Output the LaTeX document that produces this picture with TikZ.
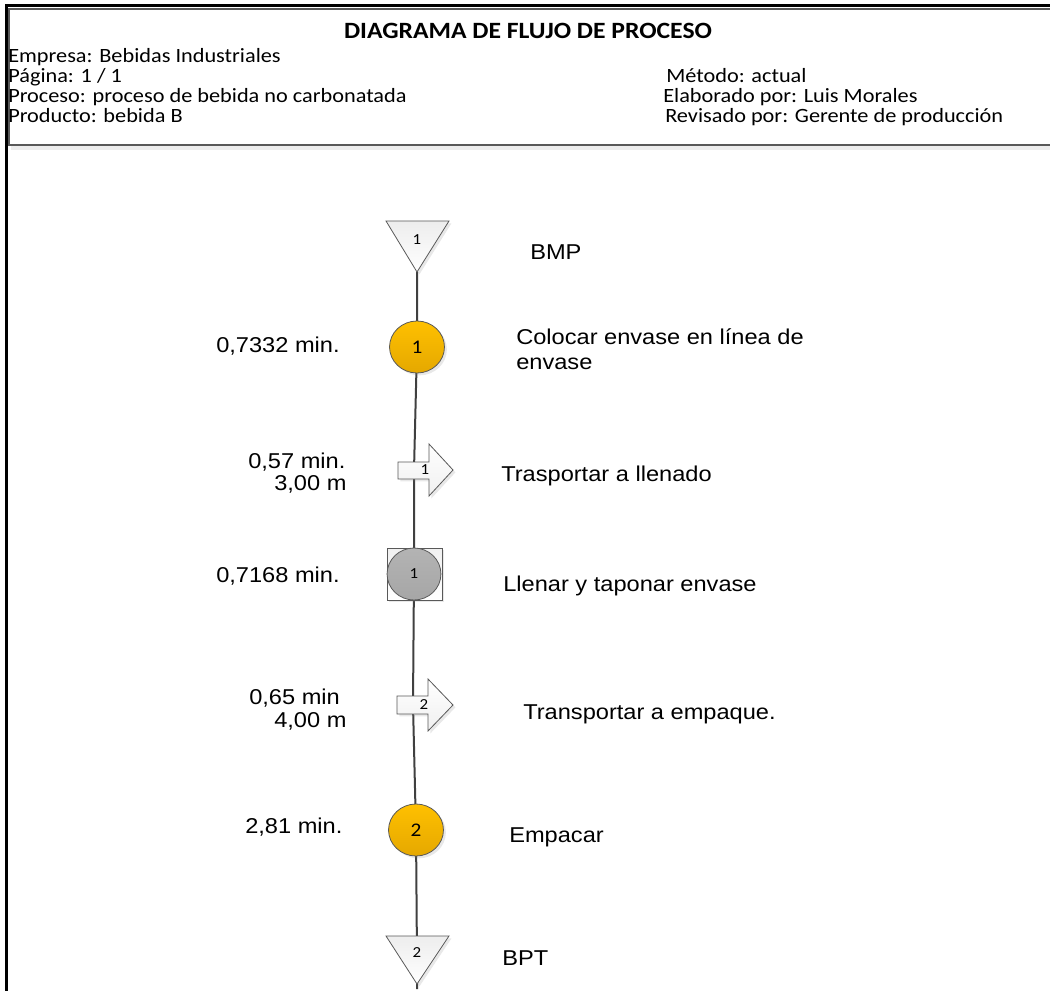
\documentclass[tikz,border=0pt]{standalone}
\usepackage{fontspec}
\setmainfont{Liberation Sans}[FakeStretch=1.1]
\newfontfamily\hdrfont{Carlito}[FakeStretch=1.1]
\usetikzlibrary{shadows,backgrounds}

\definecolor{linegray}{HTML}{404040}
\definecolor{edgegray}{HTML}{595959}
\definecolor{opgold}{HTML}{FFC000}
\definecolor{opgolddark}{HTML}{E5A800}
\definecolor{inspgray}{HTML}{A6A6A6}

\tikzset{
  frame/.style={line width=2.25pt, black},
  hdrbox/.style={line width=1pt, draw=edgegray},
  hdrtext/.style={anchor=base west, inner sep=0pt, font=\hdrfont\fontsize{15.2}{17}\selectfont},
  hdrtitle/.style={anchor=base, inner sep=0pt, font=\hdrfont\bfseries\fontsize{17.5}{20}\selectfont},
  flowline/.style={line width=1.5pt, linegray},
  shapeedge/.style={draw=edgegray, line width=0.6pt},
  softshadow/.style={drop shadow={opacity=0.18, shadow xshift=1.8pt, shadow yshift=-1.8pt}},
  storeshape/.style={shapeedge, top color=gray!14, bottom color=white, softshadow},
  opshape/.style={shapeedge, top color=opgold, bottom color=opgolddark, softshadow},
  moveshape/.style={shapeedge, top color=white, bottom color=gray!12, softshadow},
  inspshape/.style={shapeedge, top color=inspgray!85, bottom color=inspgray},
  boxshape/.style={shapeedge, top color=gray!12, bottom color=white, softshadow},
  numsmall/.style={inner sep=0pt, font=\hdrfont\fontsize{11.5}{13}\selectfont},
  numbig/.style={inner sep=0pt, font=\hdrfont\fontsize{14.5}{16}\selectfont},
  label/.style={anchor=base west, inner sep=0pt, font=\fontsize{16.1}{19}\selectfont},
}

\begin{document}
\begin{tikzpicture}[x=0.75pt, y=-0.75pt]
\useasboundingbox (0,0) rectangle (1050,991);

% outer frame: thick rule on the top and left edges
\draw[frame] (6,991) -- (6,6) -- (1050,6);

% header block
\fill[gray!14] (11,145) rectangle (1050,150);
\draw[hdrbox] (9,9) rectangle (1055,145);
\node[hdrtitle] (title) at (528,39) {DIAGRAMA DE FLUJO DE PROCESO};
\node[hdrtext] (empresa) at (8,63) {Empresa: Bebidas Industriales};
\node[hdrtext] (pagina) at (8,83) {Página: 1 / 1};
\node[hdrtext] (proceso) at (8,103) {Proceso: proceso de bebida no carbonatada};
\node[hdrtext] (producto) at (8,123) {Producto: bebida B};
\node[hdrtext] (metodo) at (666,83) {Método: actual};
\node[hdrtext] (elaborado) at (663,103) {Elaborado por: Luis Morales};
\node[hdrtext] (revisado) at (665,123) {Revisado por: Gerente de producción};

% centres of the process symbols
\coordinate (t1) at (417,272);
\coordinate (c1) at (417,347);
\coordinate (a1) at (414,470);
\coordinate (g1) at (414,574);
\coordinate (a2) at (413,705);
\coordinate (c2) at (416,830);
\coordinate (t2) at (417,960);
\coordinate (tend) at (417,989);

% vertical flow line, drawn under the symbols
\draw[flowline] (t1) -- (c1) -- (a1) -- (g1) -- (a2) -- (c2) -- (t2) -- (tend);

% storage 1 (BMP)
\path[storeshape] (386,221) -- (449,221) -- (417,272) -- cycle;
\node[numsmall] (t1num) at (417,240) {1};

% operation 1
\path[opshape] (c1) ellipse [x radius=20.6pt, y radius=19.5pt];
\node[numbig] (c1num) at (c1) {1};

% transport 1
\path[moveshape] (398,462) -- (429,462) -- (429,444) -- (453,470) -- (429,496) -- (429,479) -- (398,479) -- cycle;
\node[numsmall] (a1num) at (425,470) {1};

% combined operation / inspection 1
\path[boxshape] (387,548) rectangle (442,600);
\path[inspshape] (g1) ellipse [x radius=20.2pt, y radius=19.5pt];
\node[numsmall] (g1num) at (g1) {1};

% transport 2
\path[moveshape] (397,696) -- (428,696) -- (428,679) -- (453,705) -- (428,731) -- (428,714) -- (397,714) -- cycle;
\node[numsmall] (a2num) at (424,705) {2};

% operation 2
\path[opshape] (c2) ellipse [x radius=20.6pt, y radius=19.5pt];
\node[numbig] (c2num) at (c2) {2};

% storage 2 (BPT)
\path[storeshape] (386,936) -- (449,936) -- (417,984) -- cycle;
\node[numsmall] (t2num) at (417,953) {2};

% activity descriptions
\node[label] (bmp) at (530,260) {BMP};
\node[label] (colocar) at (516,345) {Colocar envase en línea de};
\node[label] (colocar2) at (516,370) {envase};
\node[label] (trasp) at (501,481) {Trasportar a llenado};
\node[label] (llenar) at (503,591) {Llenar y taponar envase};
\node[label] (transp) at (523,719) {Transportar a empaque.};
\node[label] (empacar) at (509,842) {Empacar};
\node[label] (bpt) at (502,965) {BPT};

% times and distances
\node[label] (tc1) at (216,353) {0,7332 min.};
\node[label] (ta1) at (248,468) {0,57 min.};
\node[label] (da1) at (274,490) {3,00 m};
\node[label] (tg1) at (216,582) {0,7168 min.};
\node[label] (ta2) at (249,704) {0,65 min};
\node[label] (da2) at (274,727) {4,00 m};
\node[label] (tc2) at (245,833) {2,81 min.};
\end{tikzpicture}
\end{document}
